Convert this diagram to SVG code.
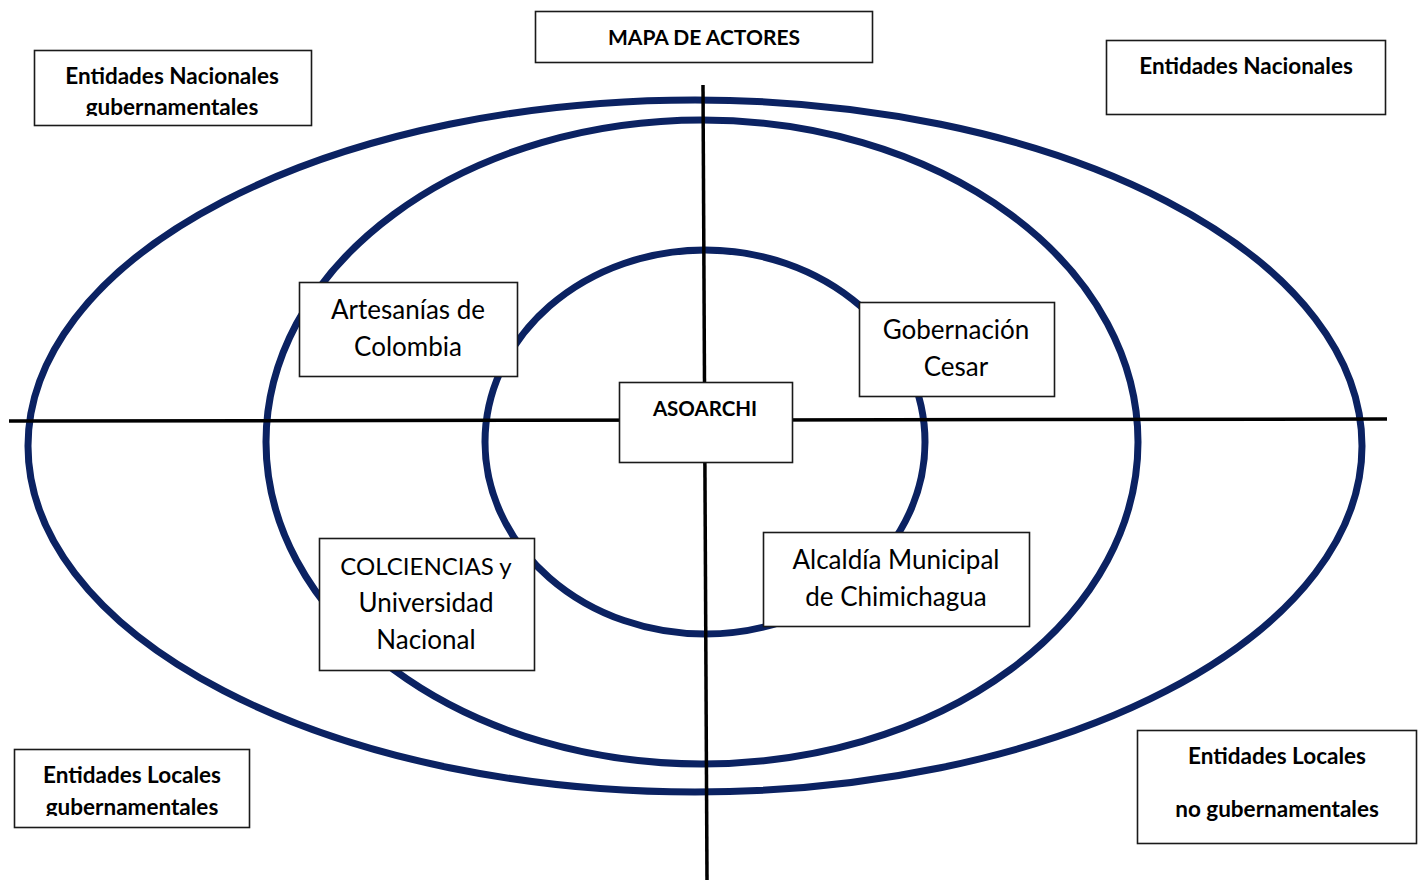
<svg xmlns="http://www.w3.org/2000/svg" width="1426" height="880" viewBox="0 0 1426 880">
<style>
.ring{fill:none;stroke:#0B2262;stroke-width:7}
.axis{stroke:#000;stroke-width:3.5;fill:none}
.box{fill:#fff;stroke:#1a1a1a;stroke-width:1.6}
.b{font-family:Lato,"Open Sans","Liberation Sans",sans-serif;font-weight:bold;font-size:22.5px;fill:#000;text-anchor:middle}
.r{font-family:Lato,"Open Sans","Liberation Sans",sans-serif;font-size:26px;fill:#000;text-anchor:middle}
</style>
<defs>
<clipPath id="c1"><rect x="34" y="50" width="277" height="66"/></clipPath>
<clipPath id="c2"><rect x="14" y="749" width="235" height="67"/></clipPath>
</defs>
<rect width="1426" height="880" fill="#fff"/>
<g id="rings">
<ellipse class="ring" cx="695" cy="446" rx="667" ry="346"/>
<ellipse class="ring" cx="702" cy="442" rx="436" ry="322"/>
<ellipse class="ring" cx="705" cy="442" rx="220" ry="192"/>
</g>
<g id="connectors">
<line class="axis" x1="9" y1="421" x2="1387" y2="419"/>
<line class="axis" x1="703" y1="85" x2="707" y2="880"/>
</g>
<g id="title">
<rect class="box" x="535.5" y="11.5" width="337" height="51"/>
<text class="b" x="704" y="45" style="font-size:21px">MAPA DE ACTORES</text>
</g>
<g id="nacionales-gub">
<rect class="box" x="34.5" y="50.5" width="277" height="75"/>
<g clip-path="url(#c1)">
<text class="b" x="172" y="84">Entidades Nacionales</text>
<text class="b" x="172" y="115">gubernamentales</text>
</g>
</g>
<g id="nacionales">
<rect class="box" x="1106.5" y="40.5" width="279" height="74"/>
<text class="b" x="1246" y="74">Entidades Nacionales</text>
</g>
<g id="locales-gub">
<rect class="box" x="14.5" y="749.5" width="235" height="78"/>
<g clip-path="url(#c2)">
<text class="b" x="132" y="783">Entidades Locales</text>
<text class="b" x="132" y="815">gubernamentales</text>
</g>
</g>
<g id="locales-nogub">
<rect class="box" x="1137.5" y="730.5" width="279" height="113"/>
<text class="b" x="1277" y="764">Entidades Locales</text>
<text class="b" x="1277" y="817">no gubernamentales</text>
</g>
<g id="artesanias">
<rect class="box" x="299.5" y="282.5" width="218" height="94"/>
<text class="r" x="408" y="319">Artesanías de</text>
<text class="r" x="408" y="356">Colombia</text>
</g>
<g id="gobernacion">
<rect class="box" x="859.5" y="302.5" width="195" height="94"/>
<text class="r" x="956" y="339">Gobernación</text>
<text class="r" x="956" y="376">Cesar</text>
</g>
<g id="asoarchi">
<rect class="box" x="619.5" y="382.5" width="173" height="80"/>
<text class="b" x="705" y="416" style="font-size:20.5px">ASOARCHI</text>
</g>
<g id="colciencias">
<rect class="box" x="319.5" y="538.5" width="215" height="132"/>
<text class="r" x="426" y="575" style="font-size:24px">COLCIENCIAS y</text>
<text class="r" x="426" y="612">Universidad</text>
<text class="r" x="426" y="649">Nacional</text>
</g>
<g id="alcaldia">
<rect class="box" x="763.5" y="532.5" width="266" height="94"/>
<text class="r" x="896" y="569">Alcaldía Municipal</text>
<text class="r" x="896" y="606">de Chimichagua</text>
</g>
</svg>
